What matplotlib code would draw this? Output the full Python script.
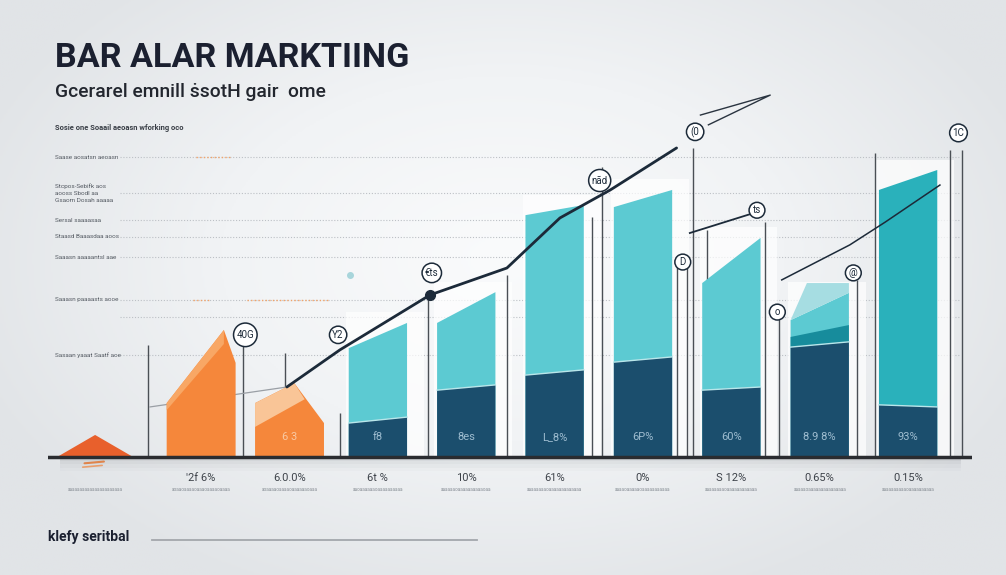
import numpy as np
import matplotlib.pyplot as plt
from matplotlib.patches import Polygon, Rectangle
from matplotlib.colors import LinearSegmentedColormap

plt.rcParams['font.family'] = ['Roboto', 'DejaVu Sans']

title = 'BAR ALAR MARKTIING'
subtitle = 'Gcerarel emnill \u1e61sotH gair  ome'
note = 'Sosie one Soaail aeoasn wforking oco'
footer = 'klefy seritbal'

# left side dotted guide lines and their (garbled) labels
grid_levels = [85.7, 75.4, 67.7, 62.9, 57.1, 44.9, 40.0, 29.1]
grid_labels = ['Saase aosatsn aeoasn',
               'Stcpos-Sebifk aos\naooss Sbodl aa\nGsaom Dosah aaaaa',
               'Sersal saaaasaa', 'Staasd Baaasdaa aoos',
               'Saaasn aaaaantsl aae', 'Saaasn paaaasts aooe', '',
               'Sasaan yaaat Saatf aoe']

# bar values (10 categories, index 0 .. 9)
tri_peak = 6.3
orange_left = [15.4, 15.4]
orange_peak = [36.3, 21.1]
orange_right = [26.9, 9.7]
teal_left = [31.1, 38.3, 69.1, 71.4, 49.7, 39.1, 76.3]
teal_right = [38.3, 47.1, 72.0, 76.3, 62.6, 46.9, 82.0]
navy_left = [9.7, 19.1, 23.4, 27.1, 19.1, 31.4, 14.9]
navy_right = [11.4, 20.6, 24.9, 28.6, 20.0, 32.9, 14.3]
band9 = [34.3, 37.7]
cap9 = [39.1, 49.7, 46.9]

val_labels = ['', "'2f 6%", '6.0.0%', '6t %', '10%', '61%', '0%', 'S 12%', '0.65%', '0.15%']
inner_labels = ['', '', '6 3', 'f8', '8es', 'L_8%', '6P%', '60%', '8.9 8%', '93%']
captions = ['aaaaaaaaaaaaaaaaaaaaaa', 'aoaaoaaaaoaaaoaaaaoaaaa', 'aoaaaaoaaaaoaaaaaaoaaa',
            'aaoaaaaaaoaaaaaaaaaa', 'aaaaaaoaaaaaaaaaaoaa', 'aaaaaaaaoaaaaaaaaaaaaa',
            'aaaaoaaaaaoaaaaaaaaaaa', 'aaaaaaaaoaaaaaaaaaaaa', 'aaaaaoaaaaaaaaaaaaaaa',
            'aaaaaaaaaaoaaaaaaaaaa']

# thin vertical posts and the circled tags on some of them
post_x = [0.40, 1.47, 1.95, 2.57, 3.57, 4.46, 5.42, 5.54, 6.38, 6.50, 6.57, 6.72,
          7.38, 7.54, 8.42, 8.63, 9.47, 9.61]
post_top = [32, 32, 29.7, 12.6, 46.3, 52, 68.6, 83, 54.9, 55.7, 88.3, 65,
            67.1, 41.4, 50.6, 86.9, 87.7, 87.7]
tag_x = [1.50, 2.55, 3.61, 5.51, 6.59, 6.45, 7.52, 7.29, 8.38, 9.57]
tag_y = [34.9, 34.9, 52.6, 79, 92.9, 55.7, 41.4, 70.5, 52.6, 92.6]
tag_text = ['40G', 'Y2', '\u20acts', 'n\u00e3d', '(0', 'D', 'o', 'ts', '@', '1C']

trend_x = [1.97, 2.57, 3.59, 4.46, 5.06, 5.63, 6.38]
trend_y = [20.0, 30.6, 46.3, 54.0, 68.3, 76.3, 88.3]
lead_x = [0.42, 1.97]
lead_y = [14.3, 20.0]
line2_x = [6.53, 7.29]
line2_y = [64.0, 70.0]
line3_x = [7.57, 8.34, 8.74, 9.36]
line3_y = [50.6, 60.6, 67.1, 77.7]
plane_x = [6.65, 7.44, 6.74]
plane_y = [97.7, 103.4, 94.9]

fig = plt.figure(figsize=(10.06, 5.75), dpi=100)

bg = fig.add_axes([0, 0, 1, 1])
gy, gx = np.mgrid[0:1:300j, 0:1:500j]
r = np.sqrt(((gx - 0.5) / 0.75) ** 2 + ((gy - 0.45) / 0.85) ** 2)
bg_cmap = LinearSegmentedColormap.from_list('bg', ['#fafbfc', '#f1f3f5', '#e1e4e7'])
bg.imshow(r, cmap=bg_cmap, extent=[0, 1, 0, 1], aspect='auto', vmin=0, vmax=0.75)
bg.plot([152 / 1006, 477 / 1006], [1 - 540 / 575] * 2, color='#a3a7ac', lw=1.3)
bg.set_xlim(0, 1)
bg.set_ylim(0, 1)
bg.axis('off')

fig.text(55 / 1006, 1 - 58 / 575, title, fontsize=24.6, weight='bold', color='#1b2030', va='center')
fig.text(55 / 1006, 1 - 92 / 575, subtitle, fontsize=13.9, weight='medium', color='#22262e', va='center')
fig.text(55 / 1006, 1 - 128 / 575, note, fontsize=5.4, weight='bold', color='#3a3f47', va='center')
fig.text(48 / 1006, 1 - 537 / 575, footer, fontsize=10, weight='bold', color='#1b2030', va='center')

ax = fig.add_axes([48 / 1006, 55 / 575, 924 / 1006, 413 / 575])
ax.set_xlim(-0.733, 9.723)
ax.set_ylim(-18, 100)
ax.axis('off')

# guide lines
ax.hlines(grid_levels, 0.08, 9.59, colors='#bcc0c5', linestyles=(0, (1, 1.6)), lw=0.8, zorder=1)
ax.hlines([85.7, 44.9, 44.9], [0.94, 0.91, 1.52], [1.35, 1.10, 2.46], colors='#f3a46a',
          linestyles=(0, (1, 1.6)), lw=1.0, zorder=1)
for lvl, lab in zip(grid_levels, grid_labels):
    if lab:
        ax.text(-0.654, lvl, lab, fontsize=4.6, color='#555b63', va='center', ha='left',
                linespacing=1.5)
ax.plot(2.69, 52, 'o', color='#a8d5db', ms=4, zorder=1)

W = 0.66
WO = 0.78

# triangle
ax.add_patch(Polygon([(-0.63, 0), (-0.2, tri_peak), (0.23, 0)], closed=True,
                     fc='#e8602c', ec='none', zorder=4))
ax.plot([-0.32, -0.1], [-1.8, -1.3], color='#f08a4a', lw=1.5, solid_capstyle='round')
ax.plot([-0.34, -0.12], [-2.9, -2.4], color='#f3a36e', lw=1.2, solid_capstyle='round')

# orange bars
fracs = [0.83, 0.57]
for k in range(2):
    i = k + 1
    L, R = i - WO / 2, i + WO / 2
    px = L + fracs[k] * (R - L)
    ax.add_patch(Polygon([(L, 0), (L, orange_left[k]), (px, orange_peak[k]),
                          (R, orange_right[k]), (R, 0)], closed=True,
                         fc='#f5873b', ec='none', zorder=4))
    if k == 0:
        ax.add_patch(Polygon([(L, orange_left[k]), (px, orange_peak[k]),
                              (px, orange_peak[k] - 4), (L, orange_left[k] - 2)],
                             closed=True, fc='#f8a765', ec='none', zorder=5))
    else:
        ax.add_patch(Polygon([(L, orange_left[k]), (px, orange_peak[k]),
                              (L + 0.72 * (R - L), 16.5), (L, 8.6)],
                             closed=True, fc='#f9c597', ec='none', zorder=5))

# teal / navy bars
for k in range(7):
    i = k + 3
    L, R = i - W / 2, i + W / 2
    top = max(teal_left[k], teal_right[k])
    ax.add_patch(Rectangle((L - 0.03, 0), (R - L) + 0.22, top + 3, fc='white',
                           ec='none', alpha=0.7, zorder=2))
    col = '#2ab1bb' if k == 6 else '#5ccad2'
    ax.add_patch(Polygon([(L, 0), (L, teal_left[k]), (R, teal_right[k]), (R, 0)],
                         closed=True, fc=col, ec='none', zorder=4))
    ax.add_patch(Polygon([(L, 0), (L, navy_left[k]), (R, navy_right[k]), (R, 0)],
                         closed=True, fc='#1b4e6d', ec='none', zorder=5))
    ax.plot([L, R], [navy_left[k], navy_right[k]], color='#b9e6ea', lw=1.0, zorder=6)
    if k == 5:
        ax.add_patch(Polygon([(L, navy_left[k]), (L, band9[0]), (R, band9[1]),
                              (R, navy_right[k])], closed=True, fc='#178c9c',
                             ec='none', zorder=5))
        ax.add_patch(Polygon([(L, cap9[0]), (L + 0.28 * (R - L), cap9[1]),
                              (R, cap9[1]), (R, cap9[2])], closed=True, fc='#a6dde2',
                             ec='none', zorder=5))

# posts, lines, tags
ax.vlines(post_x, 0, post_top, colors='#4a4f55', lw=1.0, zorder=3)
ax.plot(lead_x, lead_y, color='#9a9fa5', lw=0.9, zorder=3)
ax.plot(trend_x, trend_y, color='#1c2a39', lw=2.0, zorder=7, solid_capstyle='round')
ax.plot(3.59, 46.3, 'o', color='#1c2a39', ms=7, zorder=8)
ax.plot(line2_x, line2_y, color='#1c2a39', lw=1.3, zorder=7)
ax.plot(line3_x, line3_y, color='#1c2a39', lw=1.1, zorder=7)
ax.plot(plane_x, plane_y, color='#2a3440', lw=1.0, zorder=7, clip_on=False)
for tx, ty, ts in zip(tag_x, tag_y, tag_text):
    ax.text(tx, ty, ts, fontsize=7, ha='center', va='center', color='#1c2a39', zorder=9,
            bbox=dict(boxstyle='circle,pad=0.3', fc='white', ec='#1c2a39', lw=1.1))

# baseline with soft shadow
for d, a in [(4.0, 0.025), (3.0, 0.035), (2.0, 0.045), (1.0, 0.055)]:
    ax.fill_between([-0.6, 9.6], -d, 0, color='#5a6068', alpha=a, lw=0, zorder=2)
ax.axhline(0, color='#2a2c30', lw=2.5, zorder=10)

# labels
for i in range(10):
    if inner_labels[i]:
        c = '#f9c9a3' if i < 3 else '#9fbdd0'
        ax.text(i, 5.7, inner_labels[i], fontsize=8, ha='center', va='center',
                color=c, zorder=11)
    if val_labels[i]:
        ax.text(i, -6, val_labels[i], fontsize=8, ha='center', va='center',
                color='#3e434a')
    cx = i - 0.2 if i == 0 else i
    ax.text(cx, -9.4, captions[i], fontsize=3.4, ha='center', va='center', color='#8d939a')

fig.savefig('out.png', dpi=100)
